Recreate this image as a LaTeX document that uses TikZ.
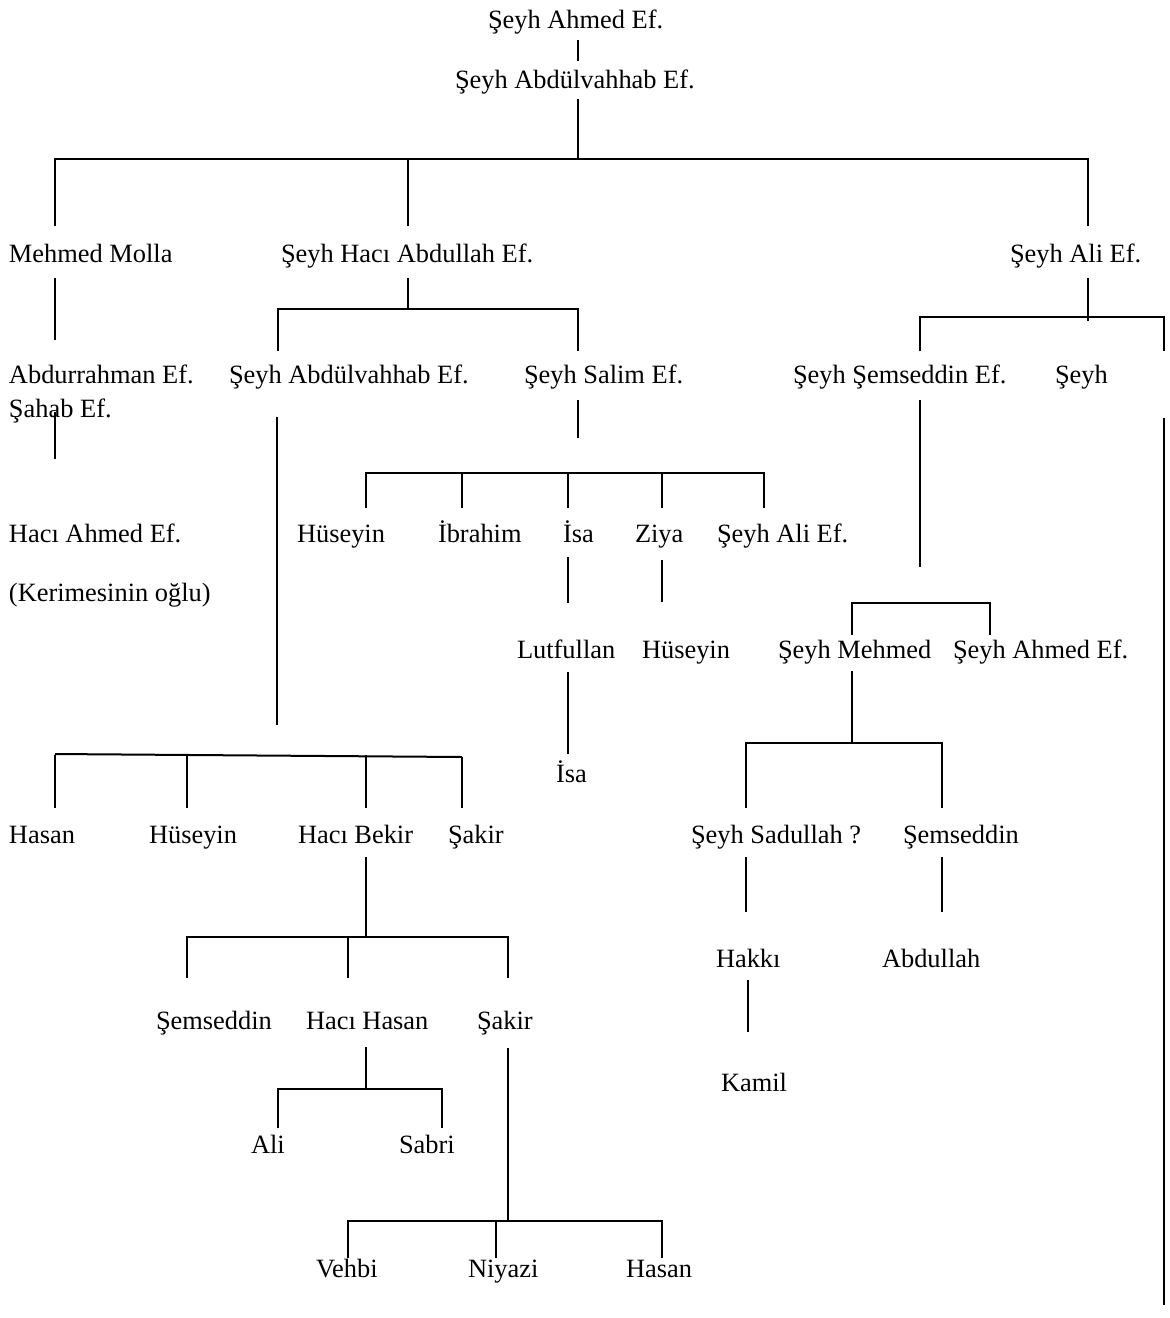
\documentclass[tikz,border=0pt]{standalone}
\usepackage{fontspec}
\setmainfont{Liberation Serif}
\begin{document}
\begin{tikzpicture}[x=0.5pt,y=-0.5pt,
  person/.style={anchor=base west,inner sep=0pt,outer sep=0pt,font=\fontsize{13.2}{15}\selectfont},
  link/.style={line width=1pt,line cap=butt}]
\useasboundingbox (0,0) rectangle (1170,1318);
% ---- people ----
\node[person] (p1) at (488,28) {Şeyh Ahmed Ef.};
\node[person] (p2) at (455,88) {Şeyh Abdülvahhab Ef.};
\node[person] (mm) at (9,262) {Mehmed Molla};
\node[person] (ha) at (281,262) {Şeyh Hacı Abdullah Ef.};
\node[person] (al) at (1010,262) {Şeyh Ali Ef.};
\node[person] (ab) at (9,383) {Abdurrahman Ef.};
\node[person] (sh) at (9,417) {Şahab Ef.};
\node[person] (av) at (229,383) {Şeyh Abdülvahhab Ef.};
\node[person] (sa) at (524,383) {Şeyh Salim Ef.};
\node[person] (se) at (793,383) {Şeyh Şemseddin Ef.};
\node[person] (sy) at (1055,383) {Şeyh};
\node[person] (hm) at (9,542) {Hacı Ahmed Ef.};
\node[person] (ke) at (9,601) {(Kerimesinin oğlu)};
\node[person] (hu1) at (297,542) {Hüseyin};
\node[person] (ib) at (438,542) {İbrahim};
\node[person] (is1) at (563,542) {İsa};
\node[person] (zi) at (635,542) {Ziya};
\node[person] (sal) at (717,542) {Şeyh Ali Ef.};
\node[person] (lu) at (517,658) {Lutfullan};
\node[person] (hu2) at (642,658) {Hüseyin};
\node[person] (me) at (778,658) {Şeyh Mehmed};
\node[person] (ah) at (953,658) {Şeyh Ahmed Ef.};
\node[person] (is2) at (556,782) {İsa};
\node[person] (has1) at (9,843) {Hasan};
\node[person] (hu3) at (149,843) {Hüseyin};
\node[person] (hb) at (298,843) {Hacı Bekir};
\node[person] (sk1) at (448,843) {Şakir};
\node[person] (sd) at (691,843) {Şeyh Sadullah ?};
\node[person] (sm1) at (903,843) {Şemseddin};
\node[person] (hk) at (716,967) {Hakkı};
\node[person] (abd) at (882,967) {Abdullah};
\node[person] (sm2) at (156,1029) {Şemseddin};
\node[person] (hh) at (306,1029) {Hacı Hasan};
\node[person] (sk2) at (477,1029) {Şakir};
\node[person] (ka) at (721,1091) {Kamil};
\node[person] (ali) at (251,1153) {Ali};
\node[person] (sb) at (399,1153) {Sabri};
\node[person] (ve) at (316,1277) {Vehbi};
\node[person] (ni) at (468,1277) {Niyazi};
\node[person] (has2) at (626,1277) {Hasan};
% ---- connectors ----
\draw[link] (578,40) -- (578,61);
\draw[link] (578,99) -- (578,159);
\draw[link] (55,226) -- (55,159) -- (1088,159) -- (1088,226);
\draw[link] (408,159) -- (408,226);
% Mehmed Molla line
\draw[link] (55,278) -- (55,340);
\draw[link] (55,412) -- (55,459);
% Haci Abdullah
\draw[link] (408,278) -- (408,309);
\draw[link] (278,351) -- (278,309) -- (578,309) -- (578,351);
% Ali Ef.
\draw[link] (1088,278) -- (1088,321);
\draw[link] (920,351) -- (920,317) -- (1164,317) -- (1164,351);
\draw[link] (920,400) -- (920,567);
\draw[link] (1164,418) -- (1164,1305);
% Abdulvahhab (2nd)
\draw[link] (277,417) -- (277,725);
\draw[link] (55,754) -- (462,757);
\draw[link] (55,755) -- (55,808);
\draw[link] (187,755) -- (187,808);
\draw[link] (366,755) -- (366,808);
\draw[link] (462,757) -- (462,808);
% Salim
\draw[link] (578,400) -- (578,438);
\draw[link] (366,508) -- (366,473) -- (764,473) -- (764,508);
\draw[link] (462,473) -- (462,508);
\draw[link] (568,473) -- (568,508);
\draw[link] (662,473) -- (662,508);
\draw[link] (568,557) -- (568,603);
\draw[link] (662,560) -- (662,602);
\draw[link] (568,672) -- (568,754);
% Semseddin Ef.
\draw[link] (852,635) -- (852,603) -- (990,603) -- (990,635);
\draw[link] (852,671) -- (852,743);
\draw[link] (746,808) -- (746,743) -- (942,743) -- (942,808);
\draw[link] (746,857) -- (746,912);
\draw[link] (942,857) -- (942,912);
\draw[link] (748,980) -- (748,1032);
% Haci Bekir
\draw[link] (366,857) -- (366,937);
\draw[link] (187,978) -- (187,937) -- (508,937) -- (508,978);
\draw[link] (348,937) -- (348,978);
\draw[link] (366,1047) -- (366,1089);
\draw[link] (278,1128) -- (278,1089) -- (442,1089) -- (442,1128);
\draw[link] (508,1048) -- (508,1221);
\draw[link] (348,1258) -- (348,1221) -- (662,1221) -- (662,1258);
\draw[link] (496,1221) -- (496,1258);
\end{tikzpicture}
\end{document}
